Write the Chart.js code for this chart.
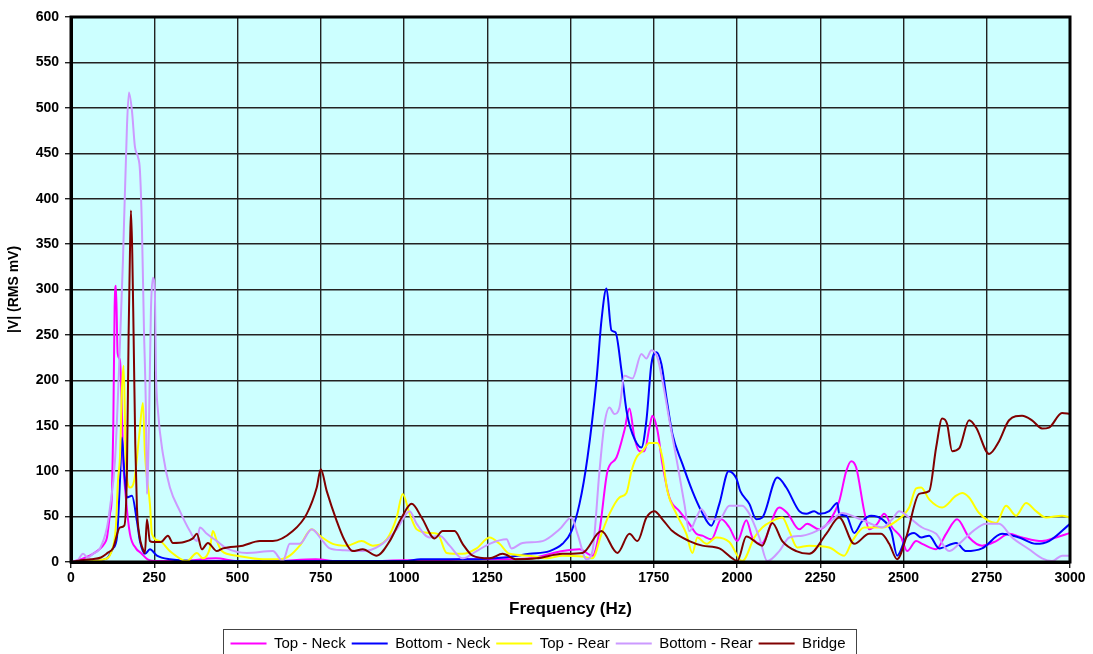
<!DOCTYPE html>
<html>
<head>
<meta charset="utf-8">
<script src="https://cdn.jsdelivr.net/npm/chart.js@4.4.0/dist/chart.umd.min.js"></script>
<style>
  body { margin: 0; background: #fff; }
  canvas { display: block; }
</style>
</head>
<body>
<canvas id="chart" width="1093" height="654"></canvas>
<script>
// [Hz, mV]
const topNeck = [[0,0],[30,3],[66,9],[100,20],[108,27],[117,53],[123,75],[127,150],[131,280],[135,304],[140,230],[147,222],[152,180],[156,120],[165,70],[177,31],[195,15],[210,10],[230,3],[260,1],[330,1],[435,4],[500,1],[600,1],[735,3],[800,1],[900,1],[1000,2],[1100,2],[1200,3],[1300,3],[1377,4],[1476,12],[1527,14],[1566,7],[1587,34],[1611,100],[1638,115],[1662,145],[1677,169],[1692,137],[1707,122],[1722,122],[1737,148],[1746,161],[1761,145],[1776,108],[1797,71],[1827,56],[1857,42],[1878,31],[1896,29],[1923,25],[1953,47],[1977,38],[2001,23],[2028,46],[2046,27],[2073,20],[2127,60],[2151,54],[2187,36],[2211,42],[2247,36],[2277,45],[2307,67],[2328,100],[2343,111],[2358,104],[2382,56],[2397,36],[2421,42],[2442,53],[2466,38],[2493,27],[2511,12],[2538,23],[2556,20],[2598,14],[2628,31],[2661,47],[2697,27],[2736,18],[2778,23],[2817,31],[2856,27],[2916,23],[2958,27],[3000,32]];

const bottomNeck = [[0,0],[60,1],[108,4],[126,15],[138,27],[147,89],[153,137],[160,100],[168,71],[183,73],[198,45],[207,23],[222,9],[237,14],[258,7],[297,3],[400,1],[600,1],[800,1],[1000,1],[1050,3],[1200,3],[1300,5],[1377,9],[1437,12],[1476,20],[1503,34],[1527,64],[1551,115],[1578,200],[1593,266],[1608,301],[1623,255],[1635,253],[1653,211],[1668,167],[1686,141],[1713,126],[1728,156],[1743,218],[1758,231],[1773,218],[1788,181],[1806,141],[1836,108],[1866,78],[1893,56],[1923,40],[1947,64],[1975,100],[1998,92],[2010,78],[2037,64],[2058,47],[2076,49],[2121,93],[2148,82],[2187,56],[2208,53],[2232,56],[2247,53],[2277,56],[2301,65],[2307,53],[2328,51],[2352,32],[2376,45],[2403,51],[2436,47],[2463,34],[2481,7],[2508,27],[2532,32],[2553,27],[2577,29],[2607,15],[2658,21],[2688,12],[2736,15],[2796,31],[2847,27],[2898,20],[2937,23],[3000,42]];

const topRear = [[0,0],[60,1],[100,3],[120,10],[135,40],[141,89],[147,115],[153,190],[158,216],[165,110],[177,82],[190,90],[205,140],[216,175],[222,120],[228,93],[237,64],[243,31],[267,23],[297,12],[348,1],[378,10],[396,4],[417,15],[426,34],[438,23],[453,12],[498,7],[576,3],[627,3],[657,7],[687,18],[723,36],[747,29],[786,20],[828,18],[873,23],[906,18],[948,25],[978,49],[996,75],[1017,53],[1038,36],[1077,32],[1101,31],[1128,10],[1176,9],[1218,15],[1257,27],[1287,20],[1317,9],[1377,7],[1428,4],[1476,7],[1536,6],[1566,4],[1593,31],[1617,53],[1647,71],[1668,76],[1683,100],[1698,115],[1716,122],[1737,131],[1761,131],[1776,115],[1791,78],[1818,53],[1848,31],[1866,10],[1881,27],[1908,20],[1938,27],[1977,22],[2016,1],[2052,27],[2076,38],[2106,45],[2136,49],[2157,34],[2181,16],[2217,18],[2277,16],[2322,7],[2346,23],[2382,38],[2436,38],[2478,45],[2517,60],[2538,81],[2553,82],[2577,69],[2616,60],[2658,73],[2676,76],[2697,71],[2727,54],[2778,43],[2808,62],[2838,51],[2868,65],[2898,56],[2928,49],[2976,51],[3000,49]];

const bottomRear = [[0,0],[20,2],[36,9],[50,5],[66,9],[87,15],[108,38],[117,60],[132,111],[145,220],[156,332],[168,479],[174,517],[183,497],[192,457],[201,446],[207,431],[213,368],[219,258],[225,167],[228,75],[234,148],[240,277],[246,313],[252,296],[255,211],[261,167],[276,119],[297,82],[327,56],[357,34],[378,23],[387,38],[408,31],[438,23],[468,15],[528,10],[606,12],[636,1],[657,20],[687,20],[723,36],[756,23],[777,15],[816,13],[876,12],[927,18],[978,36],[1017,56],[1038,42],[1077,27],[1107,29],[1137,18],[1176,4],[1218,12],[1257,20],[1308,25],[1323,15],[1356,21],[1416,23],[1467,36],[1503,49],[1521,31],[1548,3],[1566,12],[1587,100],[1602,152],[1617,170],[1632,163],[1647,170],[1662,205],[1686,202],[1713,229],[1728,224],[1743,233],[1761,225],[1776,200],[1797,156],[1821,108],[1842,64],[1857,34],[1878,49],[1893,58],[1917,47],[1947,47],[1977,62],[2016,62],[2037,53],[2067,27],[2091,1],[2127,12],[2157,27],[2196,29],[2238,34],[2277,43],[2316,54],[2358,49],[2397,43],[2436,38],[2466,47],[2487,56],[2517,49],[2556,38],[2598,31],[2637,12],[2667,20],[2709,34],[2748,42],[2787,42],[2826,27],[2877,14],[2916,4],[2946,1],[2976,7],[3000,7]];

const bridge = [[0,0],[30,2],[60,3],[90,5],[110,10],[126,15],[147,38],[160,40],[168,100],[173,250],[177,340],[180,387],[184,340],[188,250],[193,130],[198,60],[205,30],[215,15],[222,10],[228,47],[237,23],[246,22],[270,22],[291,29],[306,21],[340,22],[366,26],[378,31],[393,14],[411,21],[438,12],[456,15],[516,18],[567,23],[606,23],[666,34],[708,53],[738,82],[750,102],[768,78],[798,45],[820,25],[846,12],[876,14],[918,7],[957,23],[993,49],[1023,64],[1053,49],[1092,26],[1116,34],[1152,34],[1176,20],[1206,7],[1257,4],[1296,9],[1338,3],[1398,4],[1476,9],[1536,10],[1593,34],[1641,10],[1677,31],[1701,23],[1728,49],[1752,56],[1776,47],[1806,34],[1857,23],[1896,18],[1947,15],[1986,4],[2001,1],[2028,28],[2076,18],[2106,43],[2136,23],[2178,12],[2217,9],[2268,31],[2307,49],[2352,20],[2397,31],[2433,31],[2457,20],[2481,3],[2508,27],[2547,75],[2577,78],[2598,126],[2616,158],[2631,152],[2646,122],[2667,125],[2697,156],[2718,148],[2757,119],[2787,133],[2817,156],[2856,161],[2886,156],[2916,147],[2937,148],[2976,164],[3000,163]];

const seriesNames = ['Top - Neck', 'Bottom - Neck', 'Top - Rear', 'Bottom - Rear', 'Bridge'];
const seriesData = [topNeck, bottomNeck, topRear, bottomRear, bridge];
const seriesColors = ['#FF00FF', '#0000FF', '#FFFF00', '#CC99FF', '#800000'];

const FONT = '"Liberation Sans", Arial, sans-serif';

// cyan plot background + heavy frame + box round the legend
const plotFrame = {
  id: 'plotFrame',
  beforeDatasetsDraw(chart) {
    const { ctx, chartArea: a } = chart;
    ctx.save();
    ctx.globalCompositeOperation = 'destination-over';
    ctx.fillStyle = '#CCFFFF';
    ctx.fillRect(a.left, a.top, a.right - a.left, a.bottom - a.top);
    ctx.restore();
  },
  afterDraw(chart) {
    const { ctx, chartArea: a, legend } = chart;
    ctx.save();
    ctx.strokeStyle = '#000';
    ctx.lineWidth = 3;
    ctx.strokeRect(a.left, a.top, a.right - a.left, a.bottom - a.top);
    const boxes = legend.legendHitBoxes;
    if (boxes && boxes.length) {
      const first = boxes[0], last = boxes[boxes.length - 1];
      const x0 = Math.round(first.left) - 7.5;
      const x1 = Math.round(last.left + last.width) + 11.5;
      ctx.lineWidth = 1;
      ctx.strokeStyle = '#444';
      ctx.strokeRect(x0, 629.5, x1 - x0, 40);
    }
    ctx.restore();
  }
};

new Chart(document.getElementById('chart'), {
  type: 'line',
  data: {
    datasets: seriesNames.map((name, i) => ({
      label: name,
      data: seriesData[i].map(p => ({ x: p[0], y: p[1] })),
      borderColor: seriesColors[i],
      backgroundColor: seriesColors[i],
      borderWidth: 2,
      pointRadius: 0,
      cubicInterpolationMode: 'monotone',
      order: seriesNames.length - i
    }))
  },
  options: {
    responsive: false,
    animation: false,
    layout: { padding: { top: 17, right: 23, left: 6, bottom: -7 } },
    plugins: {
      legend: {
        position: 'bottom',
        labels: {
          usePointStyle: true,
          pointStyle: 'line',
          pointStyleWidth: 36,
          boxHeight: 10,
          padding: 6,
          color: '#000',
          font: { family: FONT, size: 15 },
          sort: (a, b) => a.datasetIndex - b.datasetIndex
        }
      },
      tooltip: { enabled: false }
    },
    scales: {
      x: {
        type: 'linear',
        min: 0,
        max: 3000,
        ticks: {
          stepSize: 250,
          color: '#000',
          font: { family: FONT, size: 14, weight: 'bold' },
          padding: 2,
          maxRotation: 0,
          callback: v => String(v)
        },
        grid: { color: '#222', lineWidth: 1.4, tickLength: 6 },
        border: { color: '#000', width: 3 },
        title: {
          display: true,
          text: 'Frequency (Hz)',
          color: '#000',
          font: { family: FONT, size: 17, weight: 'bold' },
          padding: { top: 8, bottom: 10 }
        },
        afterFit: scale => { scale.height = 68; }
      },
      y: {
        min: 0,
        max: 600,
        ticks: {
          stepSize: 50,
          color: '#000',
          font: { family: FONT, size: 14, weight: 'bold' },
          padding: 6,
          callback: v => String(v)
        },
        grid: { color: '#222', lineWidth: 1.4, tickLength: 6 },
        border: { color: '#000', width: 3 },
        title: {
          display: true,
          text: '|V| (RMS mV)',
          color: '#000',
          font: { family: FONT, size: 14, weight: 'bold' },
          padding: { top: 0, bottom: 0 }
        },
        afterFit: scale => { scale.width = 65; }
      }
    }
  },
  plugins: [plotFrame]
});
</script>
</body>
</html>
